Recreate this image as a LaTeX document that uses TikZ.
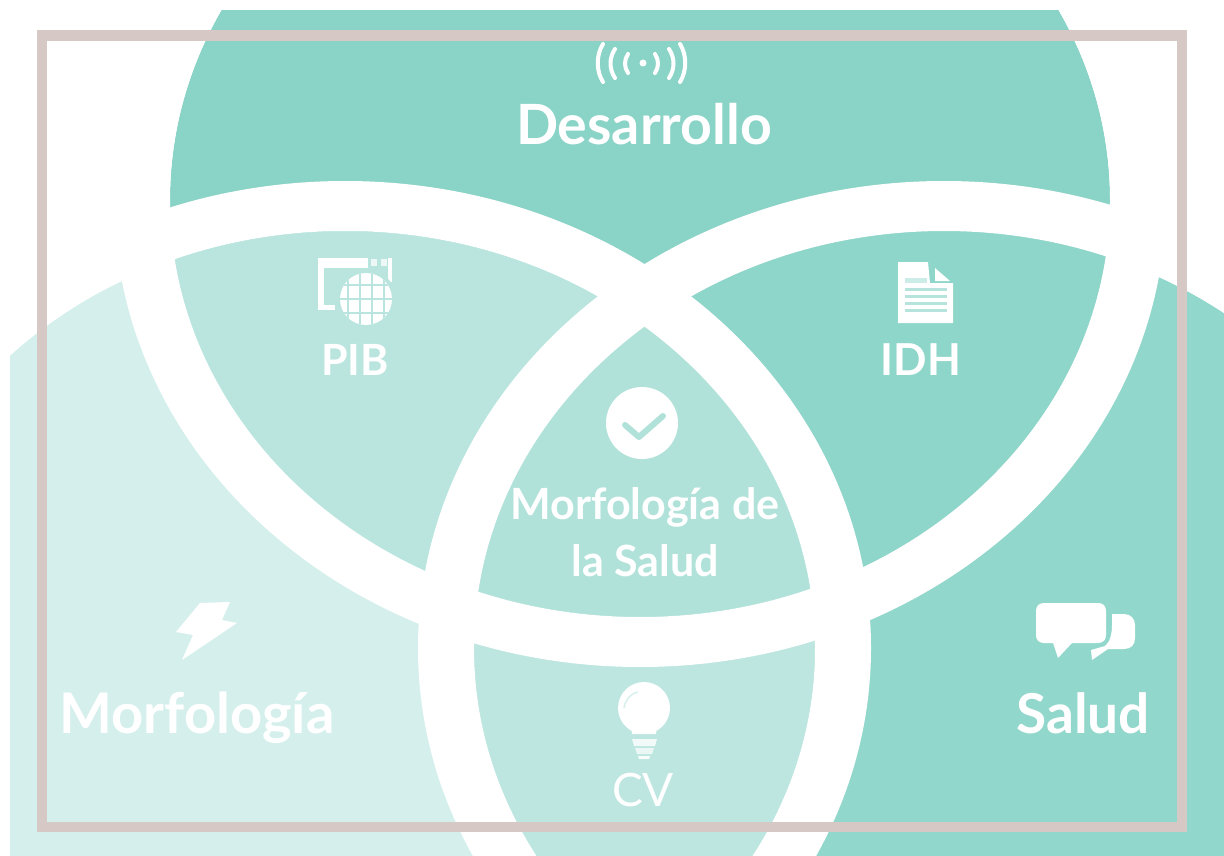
\documentclass[tikz,border=0pt]{standalone}
\usepackage{fontspec}
\setmainfont{Lato}
\definecolor{cTop}{HTML}{8AD3C7}
\definecolor{cRight}{HTML}{92D7CB}
\definecolor{cLeft}{HTML}{D5F0EC}
\definecolor{cPib}{HTML}{B9E5DE}
\definecolor{cIdh}{HTML}{8ED5CA}
\definecolor{cMid}{HTML}{B1E2DA}
\definecolor{cCv}{HTML}{BCE6DF}
\definecolor{cFrame}{HTML}{D6C8C4}
\tikzset{
  inner ell/.style={x radius=470pt,y radius=417pt},
  outer ell/.style={x radius=526pt,y radius=467pt},
  lbl/.style={text=white,font=\bfseries,anchor=base,inner sep=0pt},
  icon/.style={fill=white,draw=none},
  iconline/.style={draw=white,line cap=round,fill=none},
}
\newcommand{\lsize}[1]{\fontsize{#1}{#1}\selectfont}
\begin{document}
\begin{tikzpicture}[x=1pt,y=-1pt]
\useasboundingbox (0,0) rectangle (1224,856);
\coordinate (T) at (640,200);
\coordinate (L) at (345,648);
\coordinate (R) at (944,648);
\begin{scope}
  \clip (10,11) rectangle (1224,856);
  \fill[cLeft] (L) ellipse[inner ell];
  \fill[cRight] (R) ellipse[inner ell];
  \fill[cTop] (T) ellipse[inner ell];
  \begin{scope}
    \clip (T) ellipse[inner ell];
    \fill[cPib] (L) ellipse[inner ell];
    \fill[cIdh] (R) ellipse[inner ell];
    \clip (L) ellipse[inner ell];
    \fill[cMid] (R) ellipse[inner ell];
  \end{scope}
  \begin{scope}
    \clip (L) ellipse[inner ell];
    \clip (R) ellipse[inner ell];
    \fill[cCv] (0,630) rectangle (1224,856);
  \end{scope}
  \fill[white,even odd rule] (T) ellipse[inner ell] (T) ellipse[outer ell];
  \fill[white,even odd rule] (L) ellipse[inner ell] (L) ellipse[outer ell];
  \fill[white,even odd rule] (R) ellipse[inner ell] (R) ellipse[outer ell];
\end{scope}

% wifi icon
\fill[white] (643,63) circle[radius=3.5pt];
\draw[iconline,line width=4pt] (628,54) .. controls (624,60) and (624,67) .. (628,73);
\draw[iconline,line width=4pt] (615,49) .. controls (609,58) and (609,69) .. (615,78);
\draw[iconline,line width=4pt] (603,44) .. controls (596,55) and (596,71) .. (603,82);
\draw[iconline,line width=4pt] (655,54) .. controls (659,60) and (659,67) .. (655,73);
\draw[iconline,line width=4pt] (669,49) .. controls (675,58) and (675,69) .. (669,78);
\draw[iconline,line width=4pt] (680,44) .. controls (687,55) and (687,71) .. (680,82);

% browser globe icon
\fill[icon] (318,258) rectangle (368,268);
\fill[icon] (318,258) rectangle (324,310);
\fill[icon] (318,305) rectangle (335,310);
\fill[icon,opacity=.75] (371,259) rectangle (377,266);
\fill[icon,opacity=.75] (381,259) rectangle (387,266);
\fill[icon] (388,258) rectangle (392,282);
\fill[cPib] (366,299) circle[radius=30pt];
\begin{scope}
  \clip (366,299) circle[radius=26pt];
  \fill[white] (340,273) rectangle (392,325);
  \foreach \g in {-18,-6,6,18}{
    \draw[cPib,line width=2pt] (366+\g,270) -- (366+\g,328);
  }
  \foreach \g in {-14,0,14}{
    \draw[cPib,line width=2pt] (338,299+\g) -- (394,299+\g);
  }
\end{scope}

% document icon
\fill[icon] (898,262) -- (928,262) -- (930,283) -- (953,283) -- (953,323) -- (898,323) -- cycle;
\fill[icon] (935,268) -- (950,281) -- (935,281) -- cycle;
\fill[cIdh!45!white] (905,278) rectangle (927,283);
\foreach \s in {288,295,302,309}{
  \fill[cIdh!65!white] (905,\s) rectangle (947,\s+3);
}

% check icon
\fill[white] (642,423) circle[radius=36pt];
\draw[cMid,line width=6pt,line cap=round,line join=round] (625,425) -- (639,437) -- (663,416);

% bolt icon
\fill[icon] (230,602) -- (200,603) -- (176,632) -- (193,635) -- (182,660) -- (237,623) -- (222,620) -- cycle;

% bulb icon
\fill[icon] (644,708) circle[radius=26pt];
\fill[icon] (631,725) -- (657,725) -- (656,734) -- (632,734) -- cycle;
\draw[cCv!60!white,line width=1.5pt] (624,708) .. controls (625,700) and (630,694) .. (638,692);
\fill[icon,opacity=.8] (632,739) -- (657,739) -- (655,746) -- (634,746) -- cycle;
\fill[icon,opacity=.7] (635,748) -- (654,748) -- (652,754) -- (637,754) -- cycle;
\fill[icon,opacity=.9] (638,756) -- (650,756) -- (649,759) -- (639,759) -- cycle;

% speech bubbles icon
\fill[icon] (1044,603) -- (1098,603) .. controls (1103,603) and (1106,606) .. (1106,611) -- (1106,635) .. controls (1106,640) and (1103,643) .. (1098,643) -- (1072,643) -- (1058,658) -- (1053,643) -- (1044,643) .. controls (1039,643) and (1036,640) .. (1036,635) -- (1036,611) .. controls (1036,606) and (1039,603) .. (1044,603) -- cycle;
\fill[icon] (1112,614) -- (1124,614) .. controls (1131,614) and (1135,619) .. (1135,625) -- (1135,638) .. controls (1135,645) and (1131,649) .. (1124,649) -- (1108,649) -- (1092,660) -- (1091,650) -- (1105,646) .. controls (1110,642) and (1112,634) .. (1112,625) -- cycle;

% labels
\node[lbl,font=\bfseries\lsize{55.5}] (desarrollo) at (644,145) {Desarrollo};
\node[lbl,font=\bfseries\lsize{43}] (pib) at (355,375) {PIB};
\node[lbl,font=\bfseries\lsize{44}] (idh) at (921,375) {IDH};
\node[lbl,font=\bfseries\lsize{43}] (mds1) at (645,519) {Morfología de};
\node[lbl,font=\bfseries\lsize{43}] (mds2) at (645,576) {la Salud};
\node[lbl,font=\bfseries\lsize{56}] (morf) at (197,733) {Morfología};
\node[lbl,font=\bfseries\lsize{55}] (salud) at (1083,733) {Salud};
\node[lbl,font=\lsize{46}] (cv) at (643,806) {CV};

% frame
\draw[cFrame,line width=10.5pt] (42,35.5) rectangle (1182,827);
\end{tikzpicture}
\end{document}
